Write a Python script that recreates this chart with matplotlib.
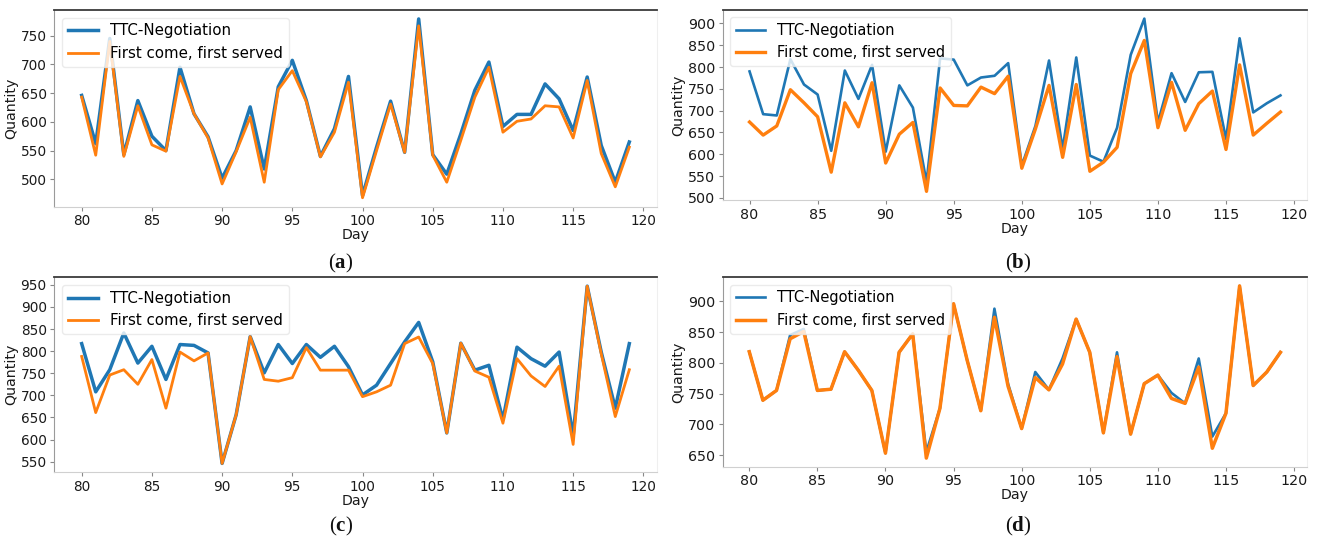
import matplotlib
matplotlib.use("Agg")
import matplotlib.pyplot as plt

plt.rcParams["font.family"] = ["DejaVu Sans"]
plt.rcParams["mathtext.fontset"] = "custom"
plt.rcParams["mathtext.rm"] = "Liberation Serif"
plt.rcParams["mathtext.bf"] = "Liberation Serif:bold"

days = list(range(80, 120))

# (a)
ttc_a = [646, 562, 745, 543, 637, 575, 550, 695, 614, 574, 502, 550, 626, 518, 661, 707,
         637, 540, 588, 679, 472, 556, 636, 547, 779, 543, 509, 579, 655, 704,
         592, 613, 613, 666, 640, 585, 678, 559, 495, 565]
fcfs_a = [643, 542, 740, 540, 628, 560, 549, 679, 614, 572, 492, 548, 608, 495, 656, 689,
          635, 539, 582, 669, 468, 550, 631, 547, 767, 542, 495, 568, 643, 695,
          582, 601, 605, 628, 626, 572, 672, 545, 487, 556]

# (b)
ttc_b = [790, 692, 689, 818, 760, 737, 608, 792, 727, 805, 606, 758, 707, 536, 820, 817,
         758, 776, 780, 809, 574, 665, 815, 612, 822, 597, 583, 661, 828, 911,
         673, 786, 720, 788, 789, 635, 866, 696, 717, 735]
fcfs_b = [674, 644, 665, 748, 718, 686, 559, 718, 663, 764, 580, 646, 673, 515, 752, 712,
          711, 754, 739, 779, 568, 658, 758, 593, 760, 561, 582, 616, 785, 861,
          661, 765, 655, 716, 745, 611, 805, 644, 671, 697]

# (c)
ttc_c = [817, 708, 758, 841, 773, 811, 736, 815, 813, 796, 546, 656, 833, 751, 815, 772,
         815, 786, 811, 765, 701, 723, 772, 821, 865, 776, 615, 818, 757, 768,
         645, 809, 783, 766, 798, 608, 947, 798, 671, 817]
fcfs_c = [788, 661, 746, 758, 725, 781, 671, 798, 778, 796, 546, 656, 833, 736, 732, 740,
          808, 757, 757, 757, 697, 708, 723, 817, 832, 772, 615, 818, 755, 741,
          637, 783, 744, 720, 766, 589, 947, 794, 652, 758]

# (d)
ttc_d = [818, 739, 755, 845, 855, 755, 757, 818, 788, 755, 653, 817, 847, 655, 726, 896,
         804, 722, 888, 766, 693, 785, 756, 807, 871, 817, 686, 817, 684, 766,
         780, 751, 734, 807, 680, 718, 925, 763, 785, 817]
fcfs_d = [818, 739, 755, 839, 851, 755, 757, 818, 788, 755, 653, 817, 847, 645, 726, 896,
          804, 722, 874, 762, 693, 776, 756, 798, 871, 817, 686, 810, 684, 766,
          780, 742, 734, 793, 661, 718, 925, 763, 785, 817]

series_names = ["TTC-Negotiation", "First come, first served"]
panel_tags = ["a", "b", "c", "d"]
yticks = {
    "a": [500, 550, 600, 650, 700, 750],
    "b": [500, 550, 600, 650, 700, 750, 800, 850, 900],
    "c": [550, 600, 650, 700, 750, 800, 850, 900, 950],
    "d": [650, 700, 750, 800, 850, 900],
}
xticks = [80, 85, 90, 95, 100, 105, 110, 115, 120]

BLUE = "#1f77b4"
ORANGE = "#ff7f0e"

W, H = 1318, 540
fig = plt.figure(figsize=(W / 100, H / 100), dpi=100)


def rect(l, t, r, b):
    return [l / W, 1 - b / H, (r - l) / W, (b - t) / H]


panels = {
    "a": dict(box=(54.3, 10, 656.7, 206.7), data=(ttc_a, fcfs_a), lw=(2.5, 2.0),
              tfs=9.8, lfs=10.8, afs=10.2, tag=(341, 263)),
    "b": dict(box=(723, 10, 1307, 200), data=(ttc_b, fcfs_b), lw=(1.9, 2.4),
              tfs=10.3, lfs=10.5, afs=10.2, tag=(1018, 263)),
    "c": dict(box=(54.3, 277.3, 656.7, 472.3), data=(ttc_c, fcfs_c), lw=(2.5, 2.0),
              tfs=9.8, lfs=10.8, afs=10.2, tag=(341, 526)),
    "d": dict(box=(722.7, 277.3, 1307, 466.7), data=(ttc_d, fcfs_d), lw=(1.9, 2.5),
              tfs=10.3, lfs=10.5, afs=10.2, tag=(1018, 526)),
}

for tag in panel_tags:
    p = panels[tag]
    ax = fig.add_axes(rect(*p["box"]))
    ttc, fcfs = p["data"]
    ax.plot(days, ttc, color=BLUE, lw=p["lw"][0], label=series_names[0])
    ax.plot(days, fcfs, color=ORANGE, lw=p["lw"][1], label=series_names[1])
    ax.set_xticks(xticks)
    ax.set_yticks(yticks[tag])
    ax.tick_params(labelsize=p["tfs"], colors="#888888", labelcolor="#1a1a1a",
                   length=3, width=0.8, pad=2.5)
    ax.set_xlabel("Day", fontsize=p["afs"], color="#1a1a1a", labelpad=0)
    ax.set_ylabel("Quantity", fontsize=p["afs"], color="#1a1a1a", labelpad=2)
    ax.spines["top"].set_color("#3a3a3a")
    ax.spines["top"].set_linewidth(1.3)
    ax.spines["left"].set_color("#9a9a9a")
    ax.spines["bottom"].set_color("#d0d0d0")
    ax.spines["right"].set_color("#efefef")
    leg = ax.legend(loc="upper left", fontsize=p["lfs"], framealpha=0.8,
                    borderaxespad=0.5, handlelength=2.0)
    leg.get_frame().set_edgecolor("#e6e6e6")
    tx, ty = p["tag"]
    fig.text(tx / W, 1 - ty / H, r"($\mathbf{" + tag + r"}$)", fontsize=15,
             family="Liberation Serif", ha="center", va="center", color="#111111")

fig.savefig("out.png", dpi=100, facecolor="white")
